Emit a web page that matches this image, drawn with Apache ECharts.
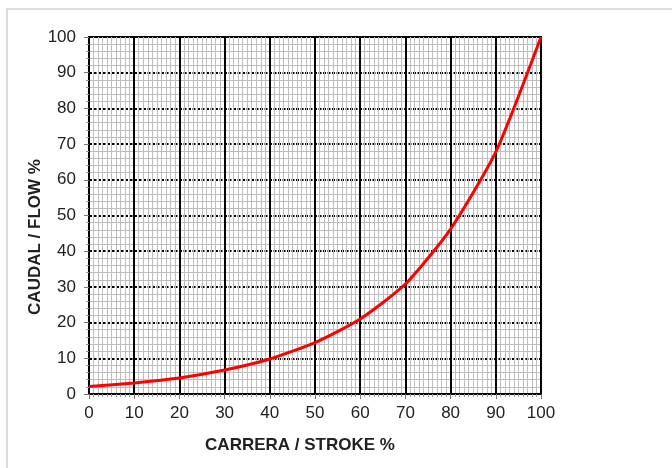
<!DOCTYPE html>
<html>
<head>
<meta charset="utf-8">
<script src="https://cdn.jsdelivr.net/npm/echarts@6/dist/echarts.min.js"></script>
<style>html,body{margin:0;padding:0;background:#fff}#c{width:672px;height:468px}</style>
</head>
<body>
<div id="c"></div>
<script>
const strokePct = [0, 10, 20, 30, 40, 50, 60, 70, 80, 90, 100];
const flowPct   = [2.1, 3.1, 4.5, 6.7, 9.8, 14.4, 21, 30.8, 46.2, 67.8, 100];
const xTitle = 'CARRERA / STROKE %';
const yTitle = 'CAUDAL / FLOW %';

const chart = echarts.init(document.getElementById('c'));
const font = '"Liberation Sans", Arial, sans-serif';
chart.setOption({
  animation: false,
  grid: { left: 89, right: 131, top: 37, bottom: 74, show: true, borderColor: '#000', borderWidth: 2 },
  xAxis: {
    type: 'value', min: 0, max: 100, interval: 10,
    axisLine: { show: true, lineStyle: { color: '#000', width: 2 } },
    axisTick: { show: true, length: 5, lineStyle: { color: '#777' } },
    minorTick: { show: true, splitNumber: 10, length: 3, lineStyle: { color: '#999' } },
    axisLabel: { fontFamily: font, fontSize: 17, color: '#222', margin: 11 },
    splitLine: { show: true, lineStyle: { color: '#000', width: 2 } },
    minorSplitLine: { show: true, lineStyle: { color: '#bdbdbd', width: 1 } }
  },
  yAxis: {
    type: 'value', min: 0, max: 100, interval: 10,
    axisLine: { show: true, lineStyle: { color: '#000', width: 2 } },
    axisTick: { show: true, length: 5, lineStyle: { color: '#777' } },
    minorTick: { show: true, splitNumber: 5, length: 3, lineStyle: { color: '#999' } },
    axisLabel: { fontFamily: font, fontSize: 17, color: '#222', margin: 13 },
    splitLine: { show: true, lineStyle: { color: '#000', width: 2, type: [3, 1.5] } },
    minorSplitLine: { show: true, lineStyle: { color: '#bdbdbd', width: 1 } }
  },
  series: [{
    type: 'line',
    data: strokePct.map((x, i) => [x, flowPct[i]]),
    smooth: 0.2,
    showSymbol: false,
    lineStyle: { color: '#ff0000', width: 3 },
    z: 10
  }],
  graphic: [
    { type: 'rect', shape: { x: 7, y: 9, width: 700, height: 500 }, style: { fill: 'none', stroke: '#dcdcdc', lineWidth: 2 }, silent: true },
    { type: 'text', x: 300, y: 445, style: { text: xTitle, font: 'bold 17px ' + font, fill: '#222', align: 'center', verticalAlign: 'middle' } },
    { type: 'text', x: 35, y: 237, rotation: Math.PI / 2, style: { text: yTitle, font: 'bold 17px ' + font, fill: '#222', align: 'center', verticalAlign: 'middle' } }
  ]
});
</script>
</body>
</html>
